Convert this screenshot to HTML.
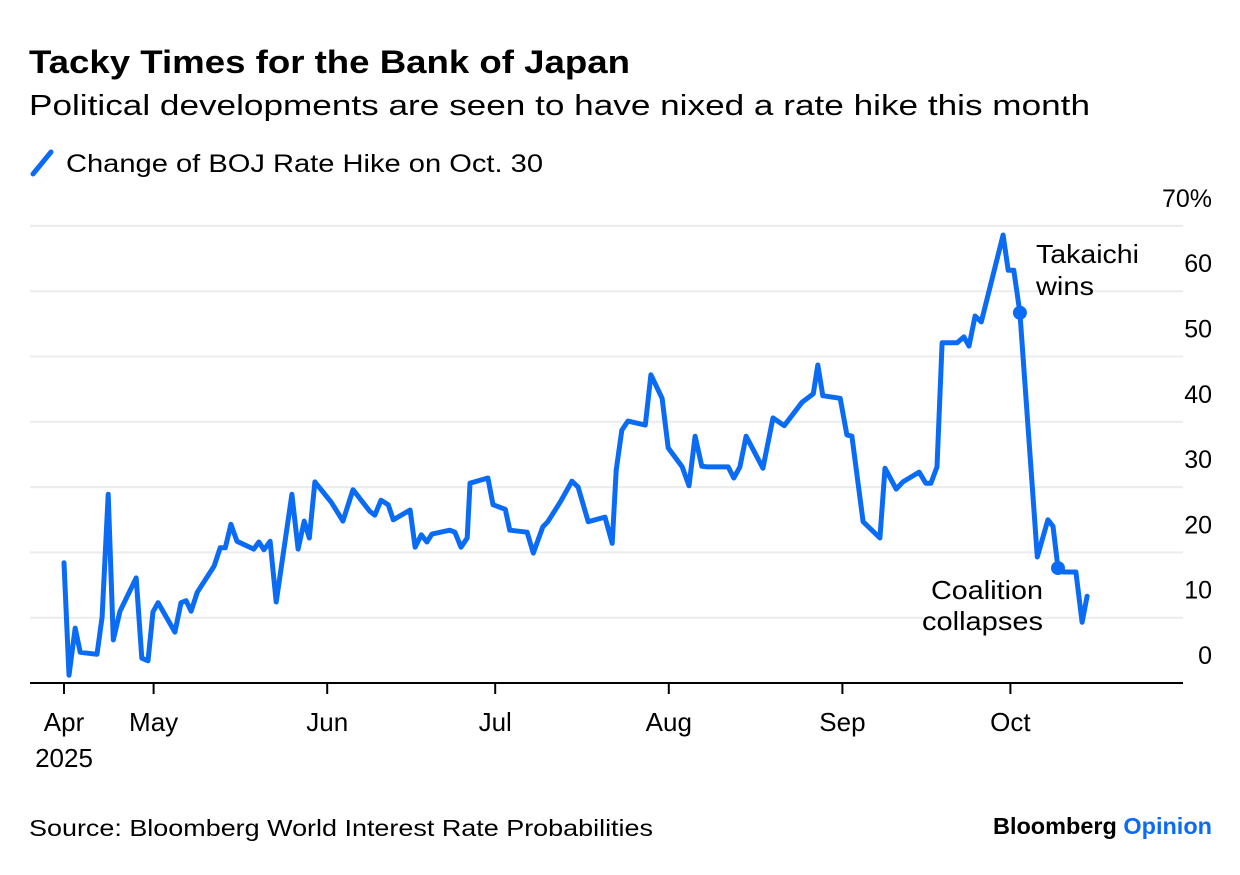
<!DOCTYPE html>
<html><head><meta charset="utf-8"><style>
body{margin:0;background:#fff;font-family:"Liberation Sans",sans-serif;}
svg text{font-family:"Liberation Sans",sans-serif;}
</style></head><body>
<svg width="1240" height="870" viewBox="0 0 1240 870">
<text x="29" y="73" font-size="32" font-weight="bold" fill="#000" textLength="601" lengthAdjust="spacingAndGlyphs">Tacky Times for the Bank of Japan</text>
<text x="29" y="115" font-size="29" fill="#000" textLength="1061" lengthAdjust="spacingAndGlyphs">Political developments are seen to have nixed a rate hike this month</text>
<g>
<line x1="33" y1="174" x2="51" y2="152" stroke="#0a6cf5" stroke-width="5" stroke-linecap="round"/>
<text x="66" y="172" font-size="25" fill="#000" textLength="477" lengthAdjust="spacingAndGlyphs">Change of BOJ Rate Hike on Oct. 30</text>
</g>
<g id="grid"></g>
<g id="yt"></g>
<g id="xt"></g>
<g id="plot"></g>
<text font-size="26" fill="#000"><tspan x="1036" y="263" textLength="103" lengthAdjust="spacingAndGlyphs">Takaichi</tspan><tspan x="1036" y="295" textLength="58" lengthAdjust="spacingAndGlyphs">wins</tspan></text>
<text font-size="26" fill="#000"><tspan x="931" y="599" textLength="112" lengthAdjust="spacingAndGlyphs">Coalition</tspan><tspan x="922" y="630" textLength="121" lengthAdjust="spacingAndGlyphs">collapses</tspan></text>
<text x="29" y="836" font-size="23" fill="#000" textLength="624" lengthAdjust="spacingAndGlyphs">Source: Bloomberg World Interest Rate Probabilities</text>
<text x="993" y="834" font-size="23" font-weight="bold" textLength="219" lengthAdjust="spacingAndGlyphs"><tspan fill="#000">Bloomberg </tspan><tspan fill="#0a6cf5">Opinion</tspan></text>
</svg>
<script>
const days=[0,0.9,2.0,2.9,5.9,6.8,7.9,8.8,10.0,12.9,13.9,15.0,15.9,16.8,19.8,20.9,21.8,22.7,23.8,26.8,27.9,28.8,29.8,30.9,33.9,34.8,35.7,36.8,37.9,40.7,41.8,42.9,43.8,44.8,47.7,48.8,49.8,51.6,54.6,55.5,56.6,57.9,58.8,61.8,62.7,63.8,64.8,65.7,68.9,69.8,70.9,72.0,72.5,75.7,76.6,78.8,79.6,82.7,83.8,85.5,86.4,88.6,90.7,91.8,93.6,96.6,97.9,98.6,99.6,100.7,103.8,104.8,106.8,107.9,110.4,111.6,112.7,113.9,114.8,118.6,119.6,120.7,121.8,124.8,126.6,128.6,131.8,133.8,134.6,135.5,138.6,139.8,140.7,142.7,145.7,146.6,148.6,149.8,152.7,153.9,154.8,155.9,156.8,159.5,160.7,161.6,162.7,163.8,167.7,168.6,169.6,170.7,173.8,175.7,176.6,177.5,178.4,180.7,181.8,182.7];
const values=[18.4,1.2,8.4,4.7,4.4,10.1,28.9,6.6,11.0,16.1,3.8,3.4,10.9,12.3,7.8,12.3,12.6,11.0,13.9,17.9,20.7,20.7,24.3,21.7,20.5,21.6,20.4,21.7,12.4,28.9,20.5,24.8,22.2,30.8,27.7,26.2,24.8,29.6,26.3,25.7,28.0,27.3,25.0,26.5,20.8,22.7,21.6,22.8,23.4,23.1,20.8,22.2,30.6,31.4,27.3,26.6,23.4,23.1,19.9,23.9,24.7,27.7,30.9,30.0,24.7,25.4,21.4,32.6,38.7,40.1,39.5,47.2,43.6,36.0,33.1,30.2,37.8,33.2,33.1,33.1,31.4,33.1,37.8,32.9,40.6,39.4,43.0,44.3,48.7,44.0,43.6,38.0,37.8,24.7,22.2,32.9,29.7,30.8,32.3,30.6,30.6,33.1,52.1,52.1,53.0,51.6,56.2,55.3,68.6,63.2,63.2,56.7,19.3,25.0,24.0,17.6,17.0,17.0,9.3,13.3];
const markerIdx=[111,115];
const yTicks=[0,10,20,30,40,50,60,70];
const yTickLabels=["0","10","20","30","40","50","60","70%"];
const xTickDays=[0,16,47,77,108,139,169];
const xTickLabels=["Apr","May","Jun","Jul","Aug","Sep","Oct"];
const NS="http://www.w3.org/2000/svg";
const xs=d=>64+d*5.6, ys=v=>683-v*6.53;
function mk(tag,attrs,parent){const e=document.createElementNS(NS,tag);for(const k in attrs)e.setAttribute(k,attrs[k]);parent.appendChild(e);return e;}
const grid=document.getElementById('grid'),yt=document.getElementById('yt'),xt=document.getElementById('xt'),plot=document.getElementById('plot');
yTicks.forEach((v,i)=>{
 if(v>0){const l=mk('line',{x1:30,x2:1183,y1:ys(v),y2:ys(v),stroke:'#ececec','stroke-width':2},grid);
 
 }
 const t=mk('text',{x:1212,y:ys(v)-19,'font-size':25,'text-anchor':'end',fill:'#000'},yt);
 t.textContent=yTickLabels[i];
 
 
});
const ax=mk('line',{x1:30,x2:1183,y1:683,y2:683,stroke:'#000','stroke-width':2},xt);


xTickDays.forEach((d,i)=>{
 const tk=mk('line',{x1:xs(d),x2:xs(d),y1:683,y2:694,stroke:'#000','stroke-width':2},xt);
 
 
 const t=mk('text',{x:xs(d),y:731,'font-size':26,'text-anchor':'middle',fill:'#000'},xt);
 t.textContent=xTickLabels[i];
 
 
});
const yr=mk('text',{x:xs(0),y:767,'font-size':26,'text-anchor':'middle',fill:'#000'},xt);
yr.textContent='2025';


const pts=days.map((d,i)=>xs(d).toFixed(1)+','+ys(values[i]).toFixed(1)).join(' ');
const line=mk('polyline',{points:pts,fill:'none',stroke:'#0a6cf5','stroke-width':5,'stroke-linejoin':'round','stroke-linecap':'round'},plot);


markerIdx.forEach(i=>{
 const c=mk('circle',{cx:xs(days[i]),cy:ys(values[i]),r:7,fill:'#0a6cf5'},plot);
 
 
});
</script>
</body></html>
